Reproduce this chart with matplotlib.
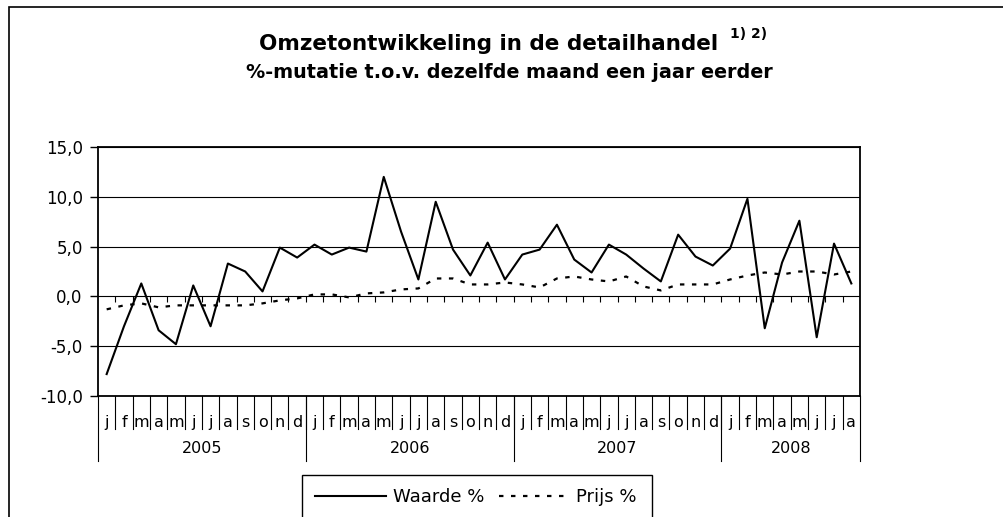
import numpy as np
import matplotlib.pyplot as plt
from matplotlib.patches import Rectangle
from matplotlib.transforms import blended_transform_factory

plt.rcParams['font.family'] = ['DejaVu Sans']

# data, per maand jan 2005 - aug 2008
maanden = ['j', 'f', 'm', 'a', 'm', 'j', 'j', 'a', 's', 'o', 'n', 'd']
jaren = ['2005', '2006', '2007', '2008']
maanden_per_jaar = [12, 12, 12, 8]
waarde = [-7.8, -3.0, 1.3, -3.4, -4.8, 1.1, -3.0, 3.3, 2.5, 0.5, 4.9, 3.9,
          5.2, 4.2, 4.9, 4.5, 12.0, 6.5, 1.7, 9.5, 4.7, 2.1, 5.4, 1.7,
          4.2, 4.7, 7.2, 3.7, 2.4, 5.2, 4.2, 2.8, 1.5, 6.2, 4.0, 3.1,
          4.8, 9.8, -3.2, 3.4, 7.6, -4.1, 5.3, 1.3]
prijs = [-1.3, -0.9, -0.7, -1.1, -0.9, -0.9, -0.9, -0.9, -0.9, -0.7, -0.4, -0.2,
         0.2, 0.2, -0.1, 0.3, 0.4, 0.7, 0.8, 1.8, 1.8, 1.2, 1.2, 1.4,
         1.2, 0.9, 1.8, 2.0, 1.7, 1.5, 2.0, 1.0, 0.6, 1.2, 1.2, 1.2,
         1.7, 2.1, 2.4, 2.2, 2.5, 2.5, 2.2, 2.5]
yticks = [-10, -5, 0, 5, 10, 15]

W, H = 1004, 517
fig = plt.figure(figsize=(W / 100, H / 100), dpi=100)
ax = fig.add_axes([98 / W, 1 - 396 / H, (860 - 98) / W, (396 - 147) / H])

n = len(waarde)
x = np.arange(n)
ax.plot(x, waarde, color='black', lw=1.5, label='Waarde %', zorder=3)
ax.plot(x, prijs, color='black', lw=1.6, ls=(0, (2, 3.4)), label='Prijs %', zorder=3)

ax.set_xlim(-0.5, n - 0.5)
ax.set_ylim(-10, 15)
ax.set_yticks(yticks)
ax.set_yticklabels([f'{v:.1f}'.replace('.', ',') for v in yticks])
ax.yaxis.grid(True, color='black', lw=0.8)
ax.set_axisbelow(True)
ax.set_xticks([])
ax.tick_params(axis='y', length=6, width=1, pad=5, labelsize=12)
for s in ax.spines.values():
    s.set_linewidth(1.3)

# streepjes op de nullijn
grenzen = np.arange(0.5, n - 0.5)
ax.vlines(grenzen, -0.6, 0, color='black', lw=0.8, zorder=2)

# categorie-as onder de grafiek
trans = blended_transform_factory(ax.transData, ax.transAxes)
labels = []
for k in maanden_per_jaar:
    labels += maanden[:k]
for i, lab in enumerate(labels):
    ax.text(i, -0.123, lab, transform=trans, ha='center', va='baseline', fontsize=11.5)
for b in grenzen:
    ax.plot([b, b], [0, -0.1325], transform=trans, color='black', lw=0.8, clip_on=False)

start = -0.5
for jaar, k in zip(jaren, maanden_per_jaar):
    ax.plot([start, start], [0, -0.261], transform=trans, color='black', lw=0.8, clip_on=False)
    ax.text(start + k / 2, -0.230, jaar, transform=trans, ha='center', va='baseline', fontsize=11.5)
    start += k
ax.plot([start, start], [0, -0.261], transform=trans, color='black', lw=0.8, clip_on=False)

# titels
t1 = fig.text(489 / W, 1 - 50 / H, 'Omzetontwikkeling in de detailhandel',
              ha='center', va='baseline', fontsize=15.5, fontweight='bold')
fig.text(509 / W, 1 - 78.3 / H, '%-mutatie t.o.v. dezelfde maand een jaar eerder',
         ha='center', va='baseline', fontsize=13.8, fontweight='bold')
ax.annotate('1) 2)', xy=(1, 1), xycoords=t1, xytext=(8, 5), textcoords='offset points',
            ha='left', va='top', fontsize=10, fontweight='bold', annotation_clip=False)

# legenda
fig.legend(loc='center', bbox_to_anchor=(476 / W, 1 - 497 / H), ncol=2, frameon=False,
           handlelength=3.9, handletextpad=0.4, columnspacing=0.8, fontsize=13)
fig.add_artist(Rectangle((302 / W, -0.1), (652 - 302) / W, (1 - 475 / H) + 0.1,
                         transform=fig.transFigure, fill=False, ec='black', lw=1))

# kader rond de hele grafiek
fig.add_artist(Rectangle((9.3 / W, -0.5), 2, 1 - 6.7 / H + 0.5,
                         transform=fig.transFigure, fill=False, ec='black', lw=1.2))

fig.savefig('out.png', dpi=100)
